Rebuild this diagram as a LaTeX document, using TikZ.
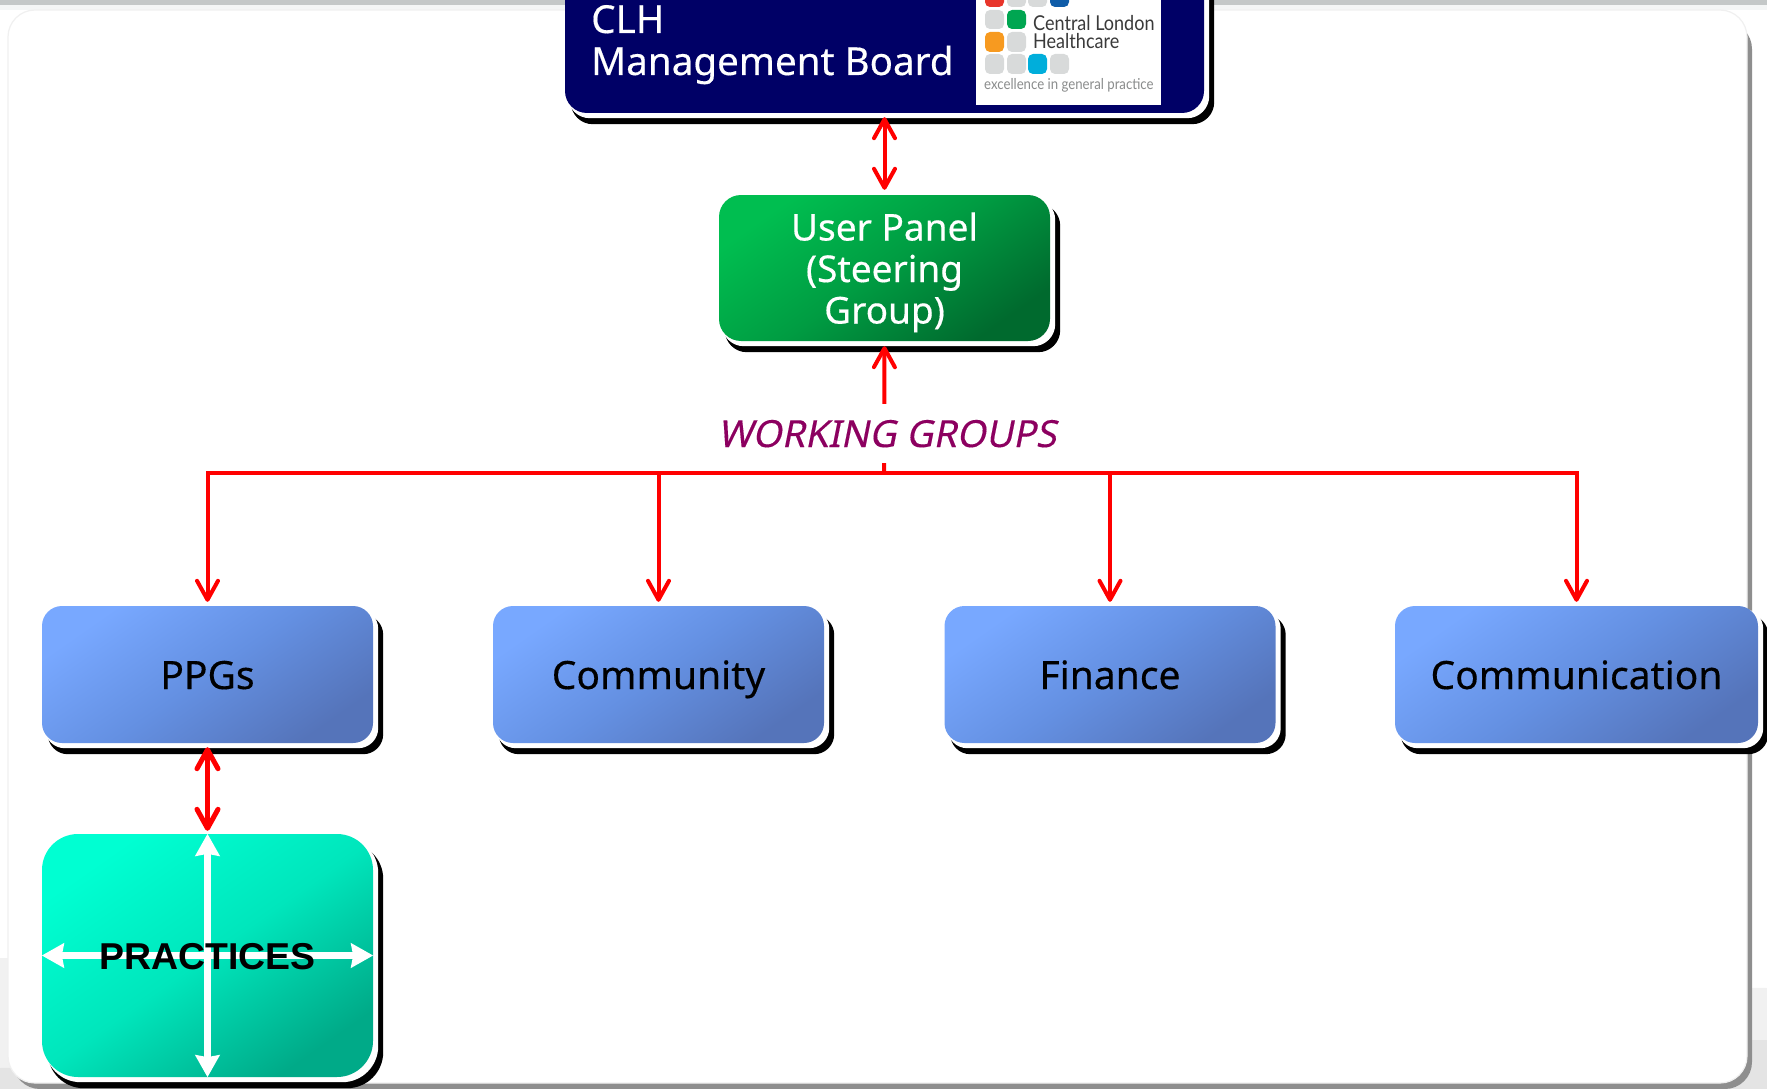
\documentclass[tikz,border=0pt]{standalone}
\usepackage{fontspec}
\setmainfont{Liberation Sans}
\newfontfamily\widefont[FakeBold=0.35]{Noto Sans}
\newfontfamily\slantfont[FakeSlant=0.2,FakeBold=0.25]{Noto Sans}
\newfontfamily\logofont[FakeStretch=0.88]{Lato}
\usetikzlibrary{arrows.meta,calc}
\pgfdeclarelayer{back}
\pgfsetlayers{back,main}
\definecolor{navy}{HTML}{000066}
\definecolor{redline}{HTML}{FF0000}
\definecolor{wgcol}{HTML}{8C0060}
\definecolor{boxA}{HTML}{78A8FF}
\definecolor{boxM}{HTML}{6490E2}
\definecolor{boxB}{HTML}{5574BA}
\definecolor{greenA}{HTML}{00BE50}
\definecolor{greenM}{HTML}{009C42}
\definecolor{greenB}{HTML}{006A2E}
\definecolor{tealA}{HTML}{00FFD2}
\definecolor{tealM}{HTML}{00E6BC}
\definecolor{tealB}{HTML}{00AA88}
\definecolor{sqgray}{HTML}{D8DADA}
\definecolor{bandgray}{HTML}{C4C8C8}
\definecolor{bandlight}{HTML}{F4F6F6}
\definecolor{floorA}{HTML}{F1F1F1}
\definecolor{floorB}{HTML}{E4E4E4}
\definecolor{panelshadow}{HTML}{8E8E8E}
\definecolor{paneledge}{HTML}{F0F0F0}
\definecolor{logotext}{HTML}{3A3A3A}
\definecolor{logogray}{HTML}{8A8C8C}
\definecolor{sqred}{HTML}{E8352B}
\definecolor{sqblue}{HTML}{0F5CA8}
\definecolor{sqgreen}{HTML}{00A651}
\definecolor{sqorange}{HTML}{F79A20}
\definecolor{sqcyan}{HTML}{00AEDB}
\tikzset{
  flatbox/.style={rectangle,inner sep=0pt},
  bluebox/.style={flatbox,rounded corners=20pt,minimum width=331pt,minimum height=137pt,
    top color=boxA,bottom color=boxB,middle color=boxM,shading angle=35,
    font=\widefont\fontsize{39}{41}\selectfont,text=black,text height=29pt,text depth=0pt},
  greenbox/.style={flatbox,rounded corners=22pt,minimum width=331pt,minimum height=146pt,
    top color=greenA,bottom color=greenB,middle color=greenM,shading angle=35,align=center,
    font=\widefont\fontsize{37}{41.5}\selectfont,text=white},
  tealbox/.style={flatbox,rounded corners=36pt,minimum width=331pt,minimum height=243pt,
    top color=tealA,bottom color=tealB,middle color=tealM,shading angle=35},
  boardbox/.style={flatbox,rounded corners=22pt,fill=navy,minimum width=639pt,minimum height=173pt},
  redarrow/.style={draw=redline,line width=4pt},
  barbs/.style={{Straight Barb[round,length=19pt,width=21pt,line width=4pt]}-{Straight Barb[round,length=19pt,width=21pt,line width=4pt]}},
  fatbarbs/.style={{Straight Barb[round,length=19pt,width=21pt,line width=5pt]}-{Straight Barb[round,length=19pt,width=21pt,line width=5pt]}},
  barb/.style={-{Straight Barb[round,length=19pt,width=21pt,line width=4pt]}},
  whitearrow/.style={draw=white,line width=6.5pt,{Stealth[length=22pt,width=24pt,inset=2pt]}-{Stealth[length=22pt,width=24pt,inset=2pt]}},
  logosq/.style={rounded corners=5pt},
  boardtext/.style={anchor=base west,inner sep=0pt,text=white,font=\widefont\fontsize{38.6}{42}\selectfont},
}
\newcommand{\boxbacking}[2]{%
  \fill[black,rounded corners=#2] ($(#1.north west)+(6,9)$) rectangle ($(#1.south east)+(10,11)$);
  \fill[white,rounded corners=#2] ($(#1.north west)+(3,3)$) rectangle ($(#1.south east)+(5,5)$);
}
\begin{document}
\begin{tikzpicture}[x=1pt,y=-1pt]
\useasboundingbox (0,0) rectangle (1767,1089);
\clip (0,0) rectangle (1767,1089);
% boxes
\node[boardbox] (board) at (884.5,26.5) {};
\node[greenbox] (panel) at (884.5,268) {\rule{0pt}{38pt}User Panel\\(Steering\\Group)\rule[-10pt]{0pt}{10pt}};
\node[bluebox] (ppg) at (207.5,674.5) {PPGs};
\node[bluebox] (community) at (658.5,674.5) {Community};
\node[bluebox] (finance) at (1110,674.5) {Finance};
\node[bluebox,minimum width=363pt] (comm) at (1576.5,674.5) {Communication};
\node[tealbox] (practices) at (207.5,955.5) {};
\begin{pgfonlayer}{back}
% backdrop
\fill[white] (0,0) rectangle (1767,1089);
\fill[floorA] (0,958) -- (1767,988) -- (1767,1089) -- (0,1089) -- cycle;
\fill[floorB] (0,1068) -- (1767,1040) -- (1767,1089) -- (0,1089) -- cycle;
\fill[bandgray] (0,0) rectangle (1767,5);
\fill[bandlight] (0,5) rectangle (1767,10);
% panel
\fill[panelshadow,rounded corners=27pt] (13,22) rectangle (1752,1089);
\fill[white,draw=paneledge,line width=1.2pt,rounded corners=27pt] (8,10) rectangle (1747,1083);
\boxbacking{board}{22pt}
\boxbacking{panel}{22pt}
\boxbacking{ppg}{20pt}
\boxbacking{community}{20pt}
\boxbacking{finance}{20pt}
\boxbacking{comm}{20pt}
\boxbacking{practices}{36pt}
\end{pgfonlayer}
% board text
\node[boardtext] (clh) at (591,33) {CLH};
\node[boardtext] (mgmt) at (591,75) {Management Board};
% logo
\fill[white] (976,-5) rectangle (1161,105);
\fill[sqred,logosq] (985,-12) rectangle (1004,7);
\fill[sqgray,logosq] (1007,-12) rectangle (1026,7);
\fill[sqgray,logosq] (1028,-12) rectangle (1047,7);
\fill[sqblue,logosq] (1050,-12) rectangle (1069,7);
\fill[sqgray,logosq] (985,10) rectangle (1004,29);
\fill[sqgreen,logosq] (1007,10) rectangle (1026,29);
\fill[sqorange,logosq] (985,32) rectangle (1004,52);
\fill[sqgray,logosq] (1007,32) rectangle (1026,52);
\fill[sqgray,logosq] (985,54) rectangle (1004,74);
\fill[sqgray,logosq] (1007,54) rectangle (1026,74);
\fill[sqcyan,logosq] (1028,54) rectangle (1047,74);
\fill[sqgray,logosq] (1050,54) rectangle (1069,74);
\node[anchor=base west,inner sep=0pt,text=logotext,font=\logofont\fontsize{20.5}{20}\selectfont] (logoa) at (1033,31) {Central London};
\node[anchor=base west,inner sep=0pt,text=logotext,font=\logofont\fontsize{20.5}{20}\selectfont] (logob) at (1033,49) {Healthcare};
\node[anchor=base west,inner sep=0pt,text=logogray,font=\logofont\fontsize{15}{15}\selectfont] (logoc) at (984,90) {excellence in general practice};
% practices arrows
\coordinate (pl) at (practices.west);
\coordinate (pr) at (practices.east);
\draw[whitearrow] (practices.north) -- (practices.south);
\draw[whitearrow] (pl) -- (pr);
\node[inner sep=0pt,anchor=base,font=\bfseries\fontsize{37.4}{40}\selectfont,text=black] (ptext) at (207.5,969) {PRACTICES};
% working groups
\coordinate (bus) at (884,473);
\draw[redarrow,barb,shorten >=5pt] (bus) -- (panel.south);
\node[fill=white,inner sep=0pt,anchor=base,text height=43pt,text depth=16pt,text=wgcol,font=\slantfont\fontsize{37.4}{40}\selectfont] (wg) at (887,447) {WORKING GROUPS};
% connectors
\draw[redarrow,barbs,shorten <=4pt,shorten >=5pt] (board.south) -- (panel.north);
\draw[redarrow,line width=5pt,fatbarbs,shorten <=4pt,shorten >=3pt] (ppg.south) -- (practices.north);
\draw[redarrow,line cap=rect] (ppg.north |- bus) -- (comm.north |- bus);
\draw[redarrow,barb,shorten >=4pt] (ppg.north |- bus) -- (ppg.north);
\draw[redarrow,barb,shorten >=4pt] (community.north |- bus) -- (community.north);
\draw[redarrow,barb,shorten >=4pt] (finance.north |- bus) -- (finance.north);
\draw[redarrow,barb,shorten >=4pt] (comm.north |- bus) -- (comm.north);
\end{tikzpicture}
\end{document}
